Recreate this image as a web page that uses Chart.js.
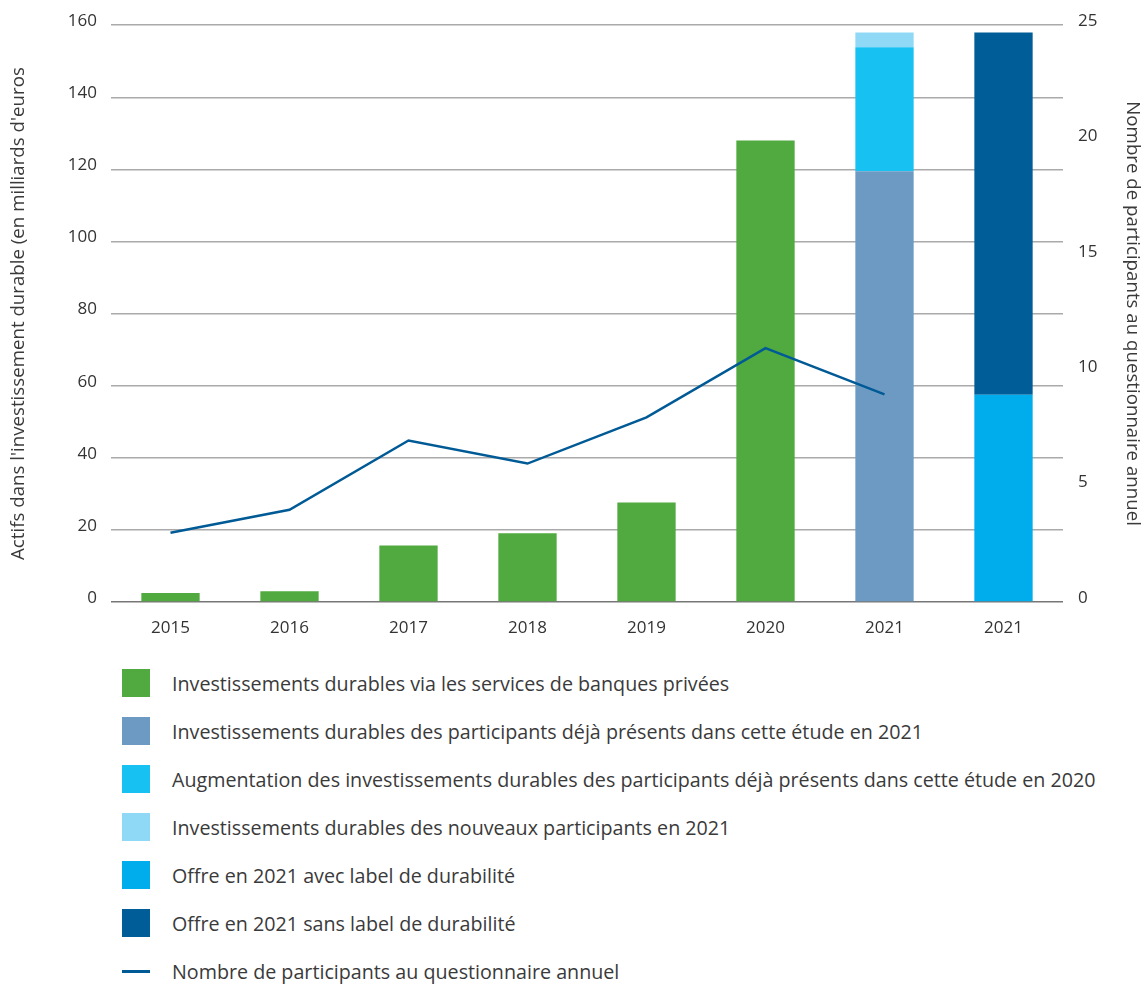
<!DOCTYPE html>
<html>
<head>
<meta charset="utf-8">
<script src="https://cdn.jsdelivr.net/npm/chart.js@4.4.1/dist/chart.umd.min.js"></script>
<style>
  body { margin: 0; background: #fff; font-family: 'Open Sans', sans-serif; }
  .chart-wrap { position: relative; width: 1145px; height: 640px; }
  #legend { list-style: none; margin: 0; padding: 19px 0 0 122px; }
  #legend li { height: 48px; display: flex; align-items: center; color: #3a3a3a; font-size: 19.7px; }
  #legend .box { width: 28px; height: 28px; margin-right: 22px; flex: none; }
  #legend .line { width: 28px; height: 3px; margin-right: 22px; flex: none; }
</style>
</head>
<body>
<div class="chart-wrap"><canvas id="invChart"></canvas></div>
<ul id="legend"></ul>
<script>
// categories (two columns for 2021: breakdown by participant, breakdown by label)
const years = ['2015', '2016', '2017', '2018', '2019', '2020', '2021', '2021'];

// assets in billions of euros
const privateBanking   = [2.5, 3.0, 15.7, 19.1, 27.6, 128, null, null];
const existing2021     = [null, null, null, null, null, null, 119.5, null];
const increase2020     = [null, null, null, null, null, null, 34.4, null];
const newParticipants  = [null, null, null, null, null, null, 4.1, null];
const withLabel        = [null, null, null, null, null, null, null, 57.5];
const withoutLabel     = [null, null, null, null, null, null, null, 100.5];

// number of participants (right axis)
const participants = [3, 4, 7, 6, 8, 11, 9, null];

const leftTicks = [0, 20, 40, 60, 80, 100, 120, 140, 160];
const rightTicks = [0, 5, 10, 15, 20, 25];

Chart.defaults.font.family = "'Open Sans', sans-serif";
Chart.defaults.color = '#333';

const ctx = document.getElementById('invChart').getContext('2d');

const invChart = new Chart(ctx, {
  type: 'bar',
  data: {
    labels: years,
    datasets: [
      { type: 'line', label: 'Nombre de participants au questionnaire annuel', data: participants,
        yAxisID: 'y1', borderColor: '#005a96', backgroundColor: '#005a96', borderWidth: 2.5,
        pointRadius: 0, tension: 0, order: 0 },
      { label: 'Investissements durables via les services de banques privées', data: privateBanking,
        backgroundColor: '#50aa3f', order: 1 },
      { label: 'Investissements durables des participants déjà présents dans cette étude en 2021', data: existing2021,
        backgroundColor: '#6d9ac3', order: 1 },
      { label: 'Augmentation des investissements durables des participants déjà présents dans cette étude en 2020', data: increase2020,
        backgroundColor: '#17c2f3', order: 1 },
      { label: 'Investissements durables des nouveaux participants en 2021', data: newParticipants,
        backgroundColor: '#8fd9f7', order: 1 },
      { label: 'Offre en 2021 avec label de durabilité', data: withLabel,
        backgroundColor: '#00adec', order: 1 },
      { label: 'Offre en 2021 sans label de durabilité', data: withoutLabel,
        backgroundColor: '#005d97', order: 1 }
    ]
  },
  options: {
    responsive: true,
    maintainAspectRatio: false,
    animation: false,
    layout: { padding: { top: 23, left: 0, right: 0, bottom: 0 } },
    datasets: { bar: { barPercentage: 0.49, categoryPercentage: 1 } },
    plugins: {
      legend: { display: false },
      tooltip: { enabled: false }
    },
    scales: {
      x: {
        stacked: true,
        grid: { display: false },
        border: { display: false },
        ticks: { font: { size: 17 }, padding: 8 },
        afterFit: (scale) => { scale.height = 38; }
      },
      y: {
        stacked: true,
        position: 'left',
        min: 0,
        max: 160,
        afterBuildTicks: (scale) => { scale.ticks = leftTicks.map(v => ({ value: v })); },
        grid: {
          drawTicks: false,
          lineWidth: 1.5,
          color: (c) => c.tick && c.tick.value === 0 ? '#777' : '#aaa'
        },
        border: { display: false },
        ticks: { font: { size: 17 }, padding: 14, labelOffset: -4 },
        title: {
          display: true,
          text: "Actifs dans l'investissement durable (en milliards d'euros",
          font: { size: 18.7 },
          color: '#3a3a3a',
          padding: { top: 7, bottom: 0 }
        },
        afterFit: (scale) => { scale.width = 111; }
      },
      y1: {
        position: 'right',
        min: 0,
        max: 25,
        afterBuildTicks: (scale) => { scale.ticks = rightTicks.map(v => ({ value: v })); },
        grid: { display: false, drawTicks: false },
        border: { display: false },
        ticks: { font: { size: 17 }, padding: 15, labelOffset: -4 },
        title: {
          display: true,
          text: 'Nombre de participants au questionnaire annuel',
          font: { size: 18.7 },
          color: '#3a3a3a',
          padding: { top: 1, bottom: 0 }
        },
        afterFit: (scale) => { scale.width = 82; }
      }
    }
  }
});

// html legend, bars first then the line
const legendEl = document.getElementById('legend');
const items = invChart.data.datasets.slice(1).concat(invChart.data.datasets[0]);
items.forEach(ds => {
  const li = document.createElement('li');
  const mark = document.createElement('span');
  mark.className = ds.type === 'line' ? 'line' : 'box';
  mark.style.background = ds.type === 'line' ? ds.borderColor : ds.backgroundColor;
  li.appendChild(mark);
  li.appendChild(document.createTextNode(ds.label));
  legendEl.appendChild(li);
});
</script>
</body>
</html>
